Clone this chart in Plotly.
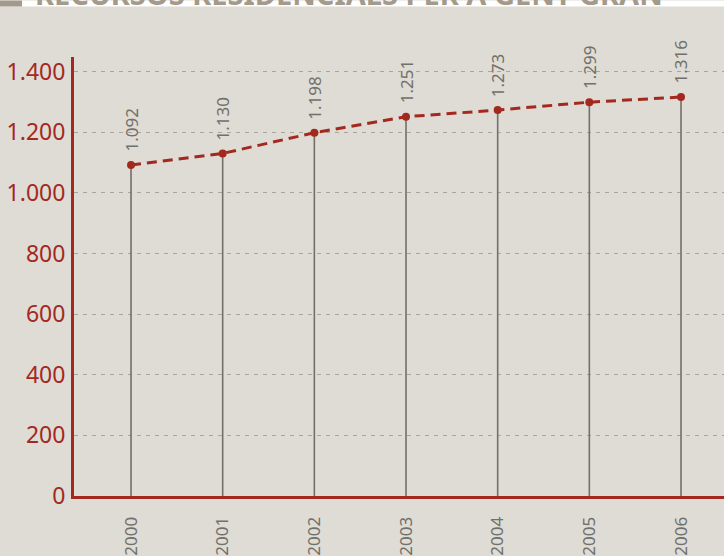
import plotly.graph_objects as go

years = [2000, 2001, 2002, 2003, 2004, 2005, 2006]
values = [1092, 1130, 1198, 1251, 1273, 1299, 1316]
value_labels = ["1.092", "1.130", "1.198", "1.251", "1.273", "1.299", "1.316"]
y_ticks = [0, 200, 400, 600, 800, 1000, 1200, 1400]
y_tick_labels = ["0", "200", "400", "600", "800", "1.000", "1.200", "1.400"]
title_text = "RECURSOS RESIDENCIALS PER A GENT GRAN"

RED = "#a3291f"
GRAY = "#6f716a"
BG = "#dfdbd5"
FONT = "Noto Sans"

W, H = 724, 556
ML, MR, MT, MB = 74, 0, 57, 56
PW, PH = W - ML - MR, H - MT - MB

fig = go.Figure()

# drop lines from each point down to the axis
fig.add_trace(go.Scatter(
    x=years, y=values, mode="markers",
    marker=dict(size=1, color="rgba(0,0,0,0)"),
    error_y=dict(type="data", symmetric=False, array=[0] * len(values),
                 arrayminus=values, width=0, thickness=1.6, color=GRAY),
    hoverinfo="skip", showlegend=False,
))

# dashed red line with markers
fig.add_trace(go.Scatter(
    x=years, y=values, mode="lines+markers",
    line=dict(color=RED, width=3, dash="10px,6px"),
    marker=dict(size=8, color=RED),
    showlegend=False,
))

for xv, yv, lab in zip(years, values, value_labels):
    fig.add_annotation(x=xv, y=yv, text=lab, textangle=-90, showarrow=False,
                       xanchor="center", yanchor="bottom", yshift=11,
                       font=dict(family=FONT, size=17, color=GRAY))

# top title strip (cropped by the window edge)
def py(px):
    return 1 + (MT - px) / PH

def px_x(px):
    return (px - ML) / PW

fig.add_shape(type="rect", xref="paper", yref="paper",
              x0=px_x(0), x1=px_x(W), y0=py(6), y1=py(0),
              fillcolor="white", line_width=0, layer="above")
fig.add_shape(type="rect", xref="paper", yref="paper",
              x0=px_x(0), x1=px_x(22), y0=py(6), y1=py(0),
              fillcolor="#a39a8c", line_width=0, layer="above")
fig.add_annotation(xref="paper", yref="paper", x=px_x(34), y=py(14),
                   xanchor="left", yanchor="bottom", showarrow=False,
                   borderpad=0,
                   text="<b>" + title_text + "</b>",
                   font=dict(family=FONT, size=29, color="#a39a8c"))

fig.update_layout(
    width=W, height=H,
    margin=dict(l=ML, r=MR, t=MT, b=MB, pad=0),
    paper_bgcolor=BG, plot_bgcolor=BG,
    xaxis=dict(
        range=[1999.378, 2006.469],
        tickmode="array", tickvals=years, ticktext=[str(y) for y in years],
        tickangle=-90, ticklabelstandoff=11,
        tickfont=dict(family=FONT, size=17, color=GRAY),
        showgrid=False, zeroline=False,
        showline=True, linecolor=RED, linewidth=3,
        ticks="",
    ),
    yaxis=dict(
        range=[0, 1448],
        tickmode="array", tickvals=y_ticks, ticktext=y_tick_labels,
        tickfont=dict(family=FONT, size=23, color=RED),
        ticklabelstandoff=1,
        showgrid=True, gridcolor="#a9a59d", griddash="4px,5px", gridwidth=1.2,
        zeroline=False,
        showline=True, linecolor=RED, linewidth=3,
        ticks="",
    ),
)

fig.write_html("out.html", config={"displayModeBar": False},
               post_script="document.body.style.margin='0px';document.body.style.overflow='hidden';")
